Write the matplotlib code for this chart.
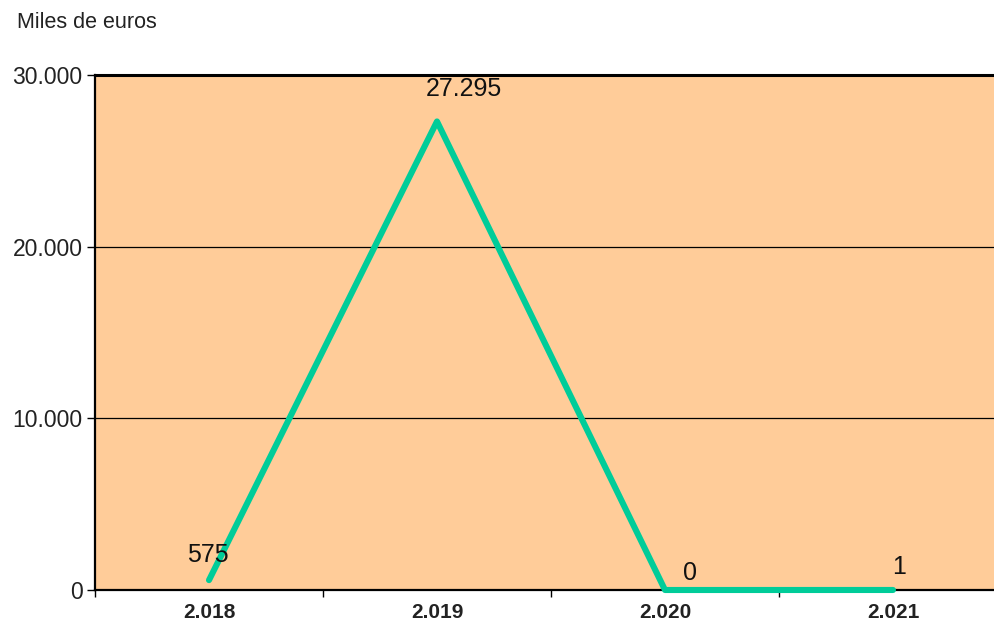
import matplotlib.pyplot as plt

years = ["2.018", "2.019", "2.020", "2.021"]
values = [575, 27295, 0, 1]
label_offsets = [(-1, 25), (27, 32), (25, 17), (6, 23)]  # pixels

yticks = [0, 10000, 20000, 30000]


def fmt(v):
    return f"{v:,.0f}".replace(",", ".")


plt.rcParams["font.family"] = ["Liberation Sans", "DejaVu Sans"]

fig = plt.figure(figsize=(9.95, 6.24), dpi=100)
ax = fig.add_axes([95 / 995, 1 - 590 / 624, 912 / 995, 515 / 624])
ax.set_facecolor("#FFCC99")

x = list(range(len(years)))
ax.plot(x, values, color="#00CC99", linewidth=4.4, solid_capstyle="round",
        clip_on=False, zorder=5)

for xi, v, (dx, dy) in zip(x, values, label_offsets):
    ax.annotate(fmt(v), (xi, v), xytext=(dx, dy), textcoords="offset pixels",
                ha="center", va="center", fontsize=18, color="#111111", zorder=6)

ax.set_xlim(-0.5, 3.5)
ax.set_ylim(0, 30000)

ax.set_yticks(yticks)
ax.set_yticklabels([fmt(t) for t in yticks], fontsize=16.5, color="#222222")
ax.yaxis.grid(True, color="black", linewidth=0.9)
ax.set_axisbelow(True)

ax.set_xticks(x)
ax.set_xticklabels(years, fontsize=15, fontweight="bold", color="#222222")
ax.set_xticks([-0.5, 0.5, 1.5, 2.5, 3.5], minor=True)
ax.tick_params(axis="x", which="major", length=0, pad=9)
ax.tick_params(axis="x", which="minor", length=5, width=1, color="black")
ax.tick_params(axis="y", length=6, width=1, color="black", pad=3)

for side in ["left", "bottom", "top"]:
    ax.spines[side].set_color("black")
    ax.spines[side].set_linewidth(1.6)
ax.spines["top"].set_linewidth(2.2)
ax.spines["right"].set_visible(False)

fig.text(17 / 995, 1 - 22 / 624, "Miles de euros", fontsize=15.5, color="#222222",
         ha="left", va="center")

fig.savefig("out.png", dpi=100)
